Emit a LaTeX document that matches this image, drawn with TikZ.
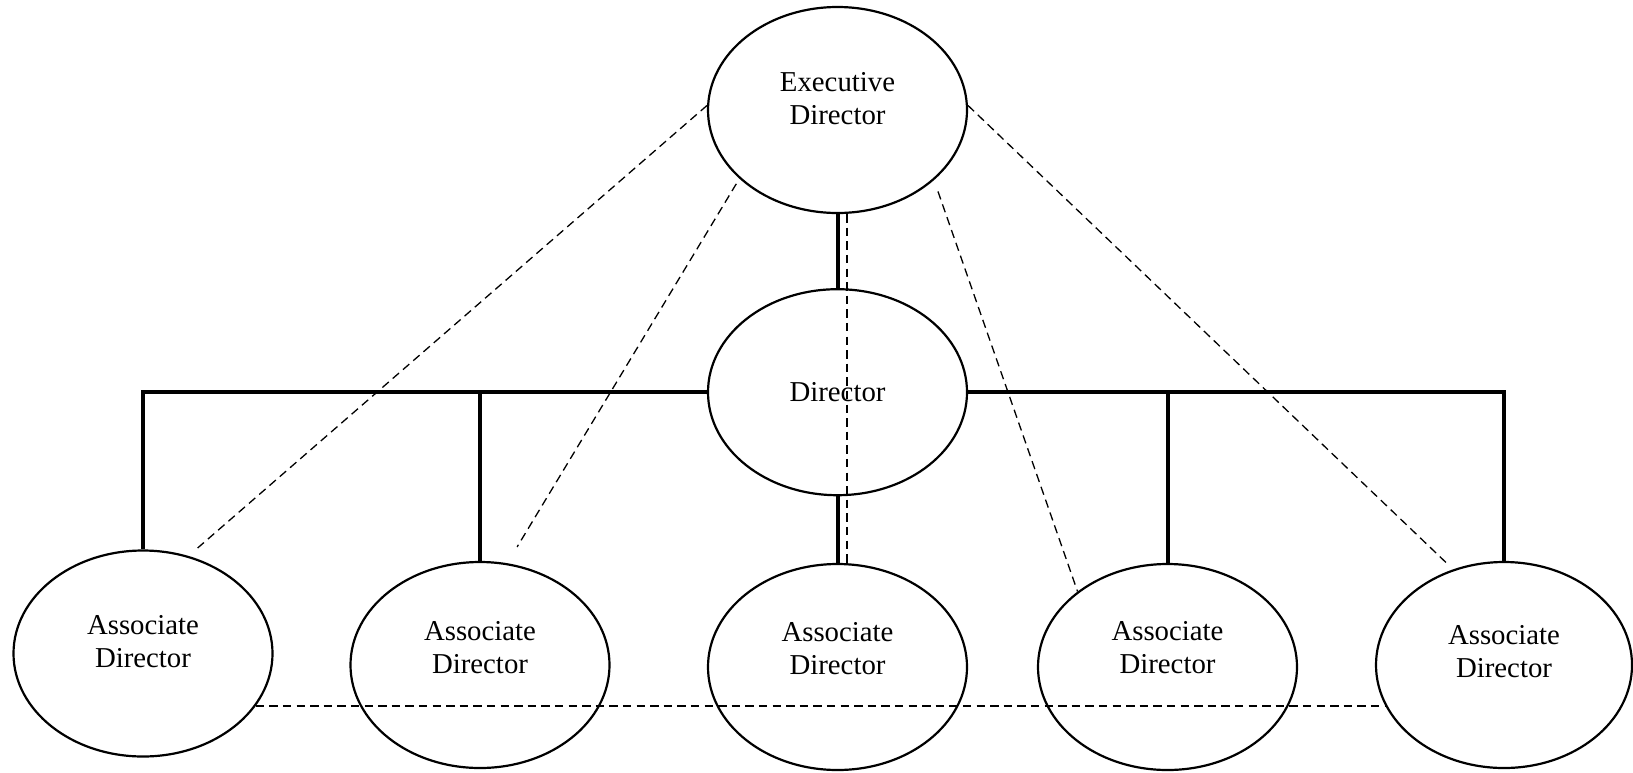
\documentclass[tikz,border=0pt]{standalone}
\usepackage{fontspec}
\setmainfont{Liberation Serif}
\usetikzlibrary{positioning, shapes.geometric}

\begin{document}
\begin{tikzpicture}[x=0.5pt, y=-0.5pt,
  role/.style={draw, ellipse, line width=1.1pt, minimum width=129.5pt, minimum height=103pt,
    inner sep=0pt, align=center, font=\fontsize{14.4}{16.5}\selectfont},
  tie/.style={line width=2pt},
  link/.style={line width=0.65pt, dash pattern=on 4.2pt off 2.6pt}]
  \path[use as bounding box, fill=white] (0,0) rectangle (1633,772);

  \node[role, text depth=12pt] (exec) at (837.5,110) {Executive\\Director};
  \node[role, below=37pt of exec] (dir) {Director};
  \node[role, text depth=12pt] (a1) at (143,653.5) {Associate\\Director};
  \node[role, text depth=18pt] (a2) at (480,665) {Associate\\Director};
  \node[role, text depth=19pt] (a3) at (837.5,667) {Associate\\Director};
  \node[role, text depth=20pt] (a4) at (1167.5,667) {Associate\\Director};
  \node[role, text depth=14pt, minimum width=128pt] (a5) at (1504,665) {Associate\\Director};

  % solid reporting lines
  \draw[tie] (exec) -- (dir);
  \draw[tie] (dir) -- (a3);
  \draw[tie] (dir.west) -| (a1.north);
  \draw[tie] (dir.west) -| (a2.north);
  \draw[tie] (dir.east) -| (a4.north);
  \draw[tie] (dir.east) -| (a5.north);

  % dashed links
  \draw[link, shorten >=5pt] (exec.178) -- (a1.65);
  \draw[link, shorten <=3pt, shorten >=9.5pt] (exec.215) -- (a2.75);
  \draw[link, shorten <=6pt] (exec.-36) -- (a4.140);
  \draw[link, shorten >=4.25pt] (exec.2) -- (a5.118);
  \draw[link] ([xshift=4.75pt]exec.south) -- ([xshift=4.75pt]a3.north);
  \draw[link] (a1.-25) -- (a1.-25 -| a5.-161);
\end{tikzpicture}
\end{document}
